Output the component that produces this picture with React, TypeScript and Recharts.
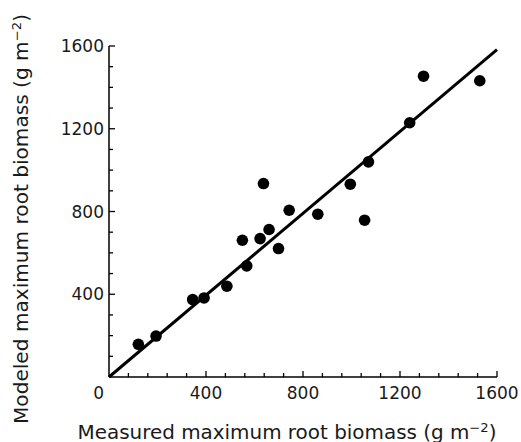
import {
  ComposedChart,
  Label,
  ReferenceLine,
  Scatter,
  XAxis,
  YAxis,
} from "recharts"

const measured = [121, 194, 345, 392, 486, 550, 568, 623, 637, 660, 699, 743, 861, 995, 1054, 1070, 1240, 1297, 1529]
const modeled = [158, 198, 374, 382, 439, 661, 537, 669, 935, 713, 621, 806, 787, 932, 758, 1040, 1229, 1454, 1432]

// fitted line end points
const fitX = [0, 1600]
const fitY = [0, 1582]

const xTicks = [0, 80, 160, 240, 320, 400, 480, 560, 640, 720, 800, 880, 960, 1040, 1120, 1200, 1280, 1360, 1440, 1520, 1600]
const yTicks = [0, 100, 200, 300, 400, 500, 600, 700, 800, 900, 1000, 1100, 1200, 1300, 1400, 1500, 1600]
const majorTicks = [0, 400, 800, 1200, 1600]

const FONT = "'DejaVu Sans', sans-serif"
const INK = "#1a1a1a"

const points = measured.map((x, i) => ({ x, y: modeled[i] }))

function XTick(props: any) {
  const { x, y, payload } = props
  const v = payload.value as number
  const major = majorTicks.includes(v)
  return (
    <g>
      {v !== 0 && (
        <line x1={x} y1={y} x2={x} y2={y - (major ? 6 : 4)} stroke="#000" strokeWidth={1.3} />
      )}
      {major && (
        <text
          x={v === 0 ? x - 5 : x}
          y={y + 22}
          textAnchor={v === 0 ? "end" : "middle"}
          fontFamily={FONT}
          fontSize={17}
          fill={INK}
        >
          {v}
        </text>
      )}
    </g>
  )
}

function YTick(props: any) {
  const { x, y, payload } = props
  const v = payload.value as number
  const major = majorTicks.includes(v)
  if (v === 0) return null
  return (
    <g>
      <line x1={x} y1={y} x2={x + (major ? 6 : 4)} y2={y} stroke="#000" strokeWidth={1.3} />
      {major && (
        <text x={x - 5} y={y + 6} textAnchor="end" fontFamily={FONT} fontSize={17} fill={INK}>
          {v}
        </text>
      )}
    </g>
  )
}

function XTitle(props: any) {
  const vb = props.viewBox
  return (
    <text
      x={vb.x + vb.width / 2 - 16}
      y={vb.y + 61.5}
      textAnchor="middle"
      textLength={419}
      lengthAdjust="spacingAndGlyphs"
      fontFamily={FONT}
      fontSize={19}
      fill={INK}
    >
      Measured maximum root biomass (g m
      <tspan dy={-7} fontSize={12.5}>−2</tspan>
      <tspan dy={7}>)</tspan>
    </text>
  )
}

function YTitle(props: any) {
  const vb = props.viewBox
  const cx = 28
  const cy = vb.y + vb.height / 2 + 7.5
  return (
    <text
      x={cx}
      y={cy}
      transform={`rotate(-90 ${cx} ${cy})`}
      textAnchor="middle"
      textLength={410}
      lengthAdjust="spacingAndGlyphs"
      fontFamily={FONT}
      fontSize={19}
      fill={INK}
    >
      Modeled maximum root biomass (g m
      <tspan dy={-7} fontSize={12.5}>−2</tspan>
      <tspan dy={7}>)</tspan>
    </text>
  )
}

export default function App() {
  return (
    <div style={{ position: "absolute", left: 0, top: 0, background: "#fff" }}>
      <ComposedChart width={521} height={442} data={points} margin={{ top: 46, right: 24, left: 0, bottom: 0 }}>
        <XAxis
          type="number"
          dataKey="x"
          domain={[0, 1600]}
          ticks={xTicks}
          interval={0}
          allowDataOverflow
          height={65}
          tickSize={0}
          tickMargin={0}
          tickLine={false}
          tick={<XTick />}
          axisLine={{ stroke: "#000", strokeWidth: 1.5 }}
          label={<Label content={<XTitle />} />}
        />
        <YAxis
          type="number"
          dataKey="y"
          domain={[0, 1600]}
          ticks={yTicks}
          interval={0}
          allowDataOverflow
          width={109}
          tickSize={0}
          tickMargin={0}
          tickLine={false}
          tick={<YTick />}
          axisLine={{ stroke: "#000", strokeWidth: 1.5 }}
          label={<Label content={<YTitle />} />}
        />
        <ReferenceLine
          segment={[
            { x: fitX[0], y: fitY[0] },
            { x: fitX[1], y: fitY[1] },
          ]}
          stroke="#000"
          strokeWidth={3}
          ifOverflow="visible"
        />
        <Scatter
          dataKey="y"
          isAnimationActive={false}
          shape={(p: any) => <circle cx={p.cx} cy={p.cy} r={5.8} fill="#000" />}
        />
      </ComposedChart>
    </div>
  )
}
